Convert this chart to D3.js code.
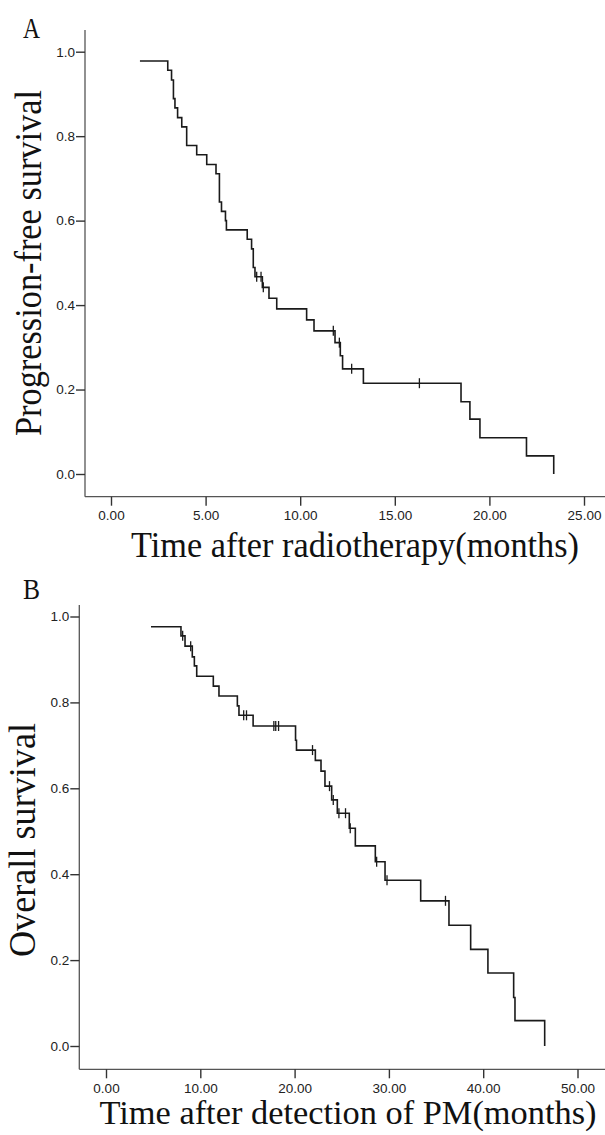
<!DOCTYPE html>
<html><head><meta charset="utf-8">
<script src="https://cdn.jsdelivr.net/npm/d3@7"></script>
<style>
html,body{margin:0;padding:0;background:#fff;}
svg{display:block;}
</style></head>
<body>
<svg id="chart" width="605" height="1135"></svg>
<script>
// ---------- Panel A: Progression-free survival ----------
const timesA = [1.53, 3.0, 3.2, 3.3, 3.38, 3.52, 3.74, 4.0, 4.53, 5.06, 5.55, 5.73, 5.84, 6.05, 6.1,
  7.2, 7.43, 7.52, 7.61, 8.0, 8.35, 8.76, 10.34, 10.73, 11.84, 12.12, 12.24, 13.34, 18.5, 18.97, 19.5, 21.96, 23.4];
const survA = [0.978, 0.956, 0.933, 0.889, 0.867, 0.844, 0.822, 0.778, 0.756, 0.733, 0.711, 0.644, 0.622, 0.600, 0.578,
  0.556, 0.533, 0.489, 0.467, 0.442, 0.416, 0.391, 0.365, 0.339, 0.311, 0.280, 0.249, 0.215, 0.171, 0.130, 0.086, 0.043, 0.0];
const censorA = [7.70, 7.93, 8.05, 11.75, 12.07, 12.72, 16.3];
const xTicksA = [0, 5, 10, 15, 20, 25];

// ---------- Panel B: Overall survival ----------
const timesB = [4.77, 7.95, 8.38, 9.15, 9.37, 9.62, 11.38, 11.98, 13.93, 14.1, 15.6, 20.1, 20.2, 22.2, 22.8,
  23.22, 23.93, 24.53, 25.8, 26.44, 28.56, 29.59, 33.37, 36.37, 38.67, 40.5, 43.23, 43.37, 46.52];
const survB = [0.976, 0.955, 0.931, 0.906, 0.885, 0.861, 0.838, 0.815, 0.792, 0.770, 0.745, 0.712, 0.689, 0.665, 0.640,
  0.605, 0.573, 0.542, 0.507, 0.466, 0.429, 0.386, 0.338, 0.281, 0.225, 0.170, 0.113, 0.059, 0.0];
const censorB = [8.13, 8.98, 14.6, 14.9, 17.8, 18.0, 18.3, 21.9, 23.7, 24.1, 24.7, 25.4, 25.9, 28.7, 29.8, 36.0];
const xTicksB = [0, 10, 20, 30, 40, 50];

const yTicks = [0, 0.2, 0.4, 0.6, 0.8, 1.0];

const svg = d3.select("#chart");

function panel(cfg) {
  const x = d3.scaleLinear().domain(cfg.xDom).range(cfg.xRange);
  const y = d3.scaleLinear().domain([0, 1]).range(cfg.yRange);
  const g = svg.append("g");

  // axis frame lines
  g.append("line").attr("x1", cfg.axisX).attr("x2", cfg.axisX)
    .attr("y1", cfg.axisTop).attr("y2", cfg.axisY)
    .attr("stroke", "#555").attr("stroke-width", 1.3);
  g.append("line").attr("x1", cfg.axisX).attr("x2", 605)
    .attr("y1", cfg.axisY).attr("y2", cfg.axisY)
    .attr("stroke", "#555").attr("stroke-width", 1.3);

  // y axis
  const ya = g.append("g").attr("transform", `translate(${cfg.axisX},0)`)
    .call(d3.axisLeft(y).tickValues(yTicks).tickFormat(d3.format(".1f")).tickSize(9).tickPadding(1));
  ya.select(".domain").remove();
  ya.selectAll("line").attr("stroke", "#333").attr("stroke-width", 1.4);
  ya.selectAll("text").attr("font-family", "Liberation Sans, Arial, sans-serif")
    .attr("font-size", 13.5).attr("fill", "#222");

  // x axis
  const xa = g.append("g").attr("transform", `translate(0,${cfg.axisY})`)
    .call(d3.axisBottom(x).tickValues(cfg.xTicks).tickFormat(d3.format(".2f")).tickSize(9).tickPadding(5));
  xa.select(".domain").remove();
  xa.selectAll("line").attr("stroke", "#333").attr("stroke-width", 1.4);
  xa.selectAll("text").attr("font-family", "Liberation Sans, Arial, sans-serif")
    .attr("font-size", 13.5).attr("fill", "#222");

  // KM step curve
  const pts = cfg.times.map((t, i) => [t, cfg.surv[i]]);
  const line = d3.line().x(d => x(d[0])).y(d => y(d[1])).curve(d3.curveStepAfter);
  g.append("path").attr("d", line(pts)).attr("fill", "none")
    .attr("stroke", "#1a1a1a").attr("stroke-width", 1.6);

  // censor marks
  const levelAt = t => {
    let s = cfg.surv[0];
    for (let i = 0; i < cfg.times.length; i++) if (cfg.times[i] <= t) s = cfg.surv[i];
    return s;
  };
  g.selectAll(".cens").data(cfg.censor).enter().append("line")
    .attr("x1", d => x(d)).attr("x2", d => x(d))
    .attr("y1", d => y(levelAt(d)) - 5).attr("y2", d => y(levelAt(d)) + 5)
    .attr("stroke", "#1a1a1a").attr("stroke-width", 1.3);

  // panel letter
  g.append("text").attr("x", 23).attr("y", cfg.letterY).text(cfg.letter)
    .attr("font-family", "Liberation Serif, Times New Roman, serif").attr("font-size", 30)
    .attr("textLength", 17).attr("lengthAdjust", "spacingAndGlyphs").attr("fill", "#111");

  // y title
  g.append("text").attr("transform", `translate(${cfg.yTitleX},${cfg.yTitleCY}) rotate(-90)`)
    .attr("text-anchor", "middle").text(cfg.yTitle)
    .attr("font-family", "Liberation Serif, Times New Roman, serif").attr("font-size", 38)
    .attr("textLength", cfg.yTitleLen).attr("lengthAdjust", "spacingAndGlyphs").attr("fill", "#111");

  // x title
  g.append("text").attr("x", cfg.xTitleCX).attr("y", cfg.xTitleY)
    .attr("text-anchor", "middle").text(cfg.xTitle)
    .attr("font-family", "Liberation Serif, Times New Roman, serif").attr("font-size", cfg.xTitleSize)
    .attr("textLength", cfg.xTitleLen).attr("lengthAdjust", "spacingAndGlyphs").attr("fill", "#111");
}

panel({
  xDom: [0, 25], xRange: [111, 584], yRange: [474, 51.7],
  axisX: 85, axisY: 496.7, axisTop: 30,
  xTicks: xTicksA, times: timesA, surv: survA, censor: censorA,
  letter: "A", letterY: 38,
  yTitle: "Progression-free survival", yTitleX: 41, yTitleCY: 263, yTitleLen: 346,
  xTitle: "Time after radiotherapy(months)", xTitleCX: 355, xTitleY: 557, xTitleLen: 448, xTitleSize: 36
});

panel({
  xDom: [0, 50], xRange: [106, 577.5], yRange: [1046, 616.5],
  axisX: 79.3, axisY: 1069.3, axisTop: 605,
  xTicks: xTicksB, times: timesB, surv: survB, censor: censorB,
  letter: "B", letterY: 599,
  yTitle: "Overall survival", yTitleX: 35, yTitleCY: 840, yTitleLen: 234,
  xTitle: "Time after detection of PM(months)", xTitleCX: 348, xTitleY: 1124, xTitleLen: 497, xTitleSize: 34
});
</script>
</body></html>
